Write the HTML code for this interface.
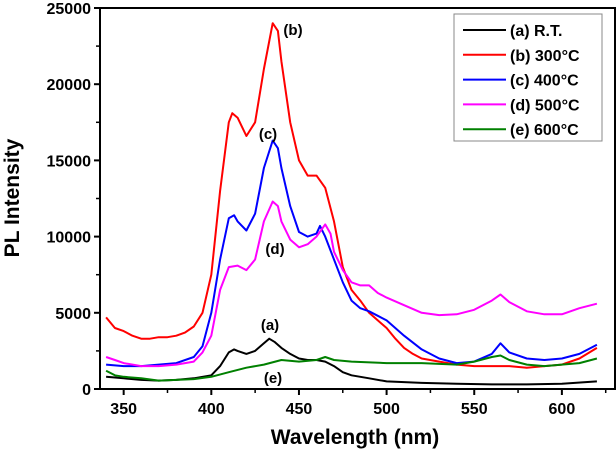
<!DOCTYPE html>
<html><head><meta charset="utf-8"><style>
html,body{margin:0;padding:0;background:#fff;}
svg{display:block;font-family:"Liberation Sans",Arial,sans-serif;font-weight:bold;}
</style></head><body>
<svg id="chart" width="616" height="453" viewBox="0 0 616 453"></svg>
<script>
const xTicks=[350,400,450,500,550,600];
const yTicks=[0,5000,10000,15000,20000,25000];
const seriesNames=["(a) R.T.","(b) 300\u00B0C","(c) 400\u00B0C","(d) 500\u00B0C","(e) 600\u00B0C"];
const seriesColors=["#000000","#ff0000","#0000ff","#ff00ff","#008000"];
const wlA=[340,350,360,370,380,390,400,405,410,413,415,420,425,430,433,436,440,445,450,455,460,465,470,475,480,490,500,520,540,560,580,600,620];
const valA=[800,700,600,550,600,700,900,1500,2400,2600,2500,2300,2500,3000,3300,3100,2700,2300,2000,1900,1900,1800,1500,1100,900,700,500,400,350,300,300,350,500];
const wlB=[340,345,350,355,360,365,370,375,380,385,390,395,400,405,410,412,415,420,425,430,435,438,440,445,450,455,460,465,470,475,480,485,490,495,500,505,510,515,520,530,540,550,560,570,580,590,600,610,620];
const valB=[4700,4000,3800,3500,3300,3300,3400,3400,3500,3700,4100,5000,7500,13000,17500,18100,17800,16600,17500,21000,24000,23500,21500,17500,15000,14000,14000,13200,11000,8000,6500,5800,5000,4500,4000,3300,2700,2300,2000,1800,1600,1500,1500,1500,1400,1500,1600,2000,2700];
const wlC=[340,350,360,370,380,390,395,400,405,410,413,415,420,425,430,435,438,440,445,450,455,460,462,465,470,475,480,485,490,495,500,510,520,530,540,550,560,565,570,580,590,600,610,620];
const valC=[1600,1500,1500,1600,1700,2100,2800,5000,8500,11200,11400,11000,10400,11500,14500,16300,15800,14500,12000,10300,10000,10200,10700,10000,8500,7000,5800,5300,5100,4800,4500,3500,2600,2000,1700,1800,2300,3000,2400,2000,1900,2000,2300,2900];
const wlD=[340,345,350,360,370,380,390,395,400,405,410,415,420,425,430,435,438,440,445,450,455,460,465,468,470,475,480,485,490,495,500,510,520,530,540,550,560,565,570,580,590,600,610,620];
const valD=[2100,1900,1700,1500,1500,1600,1800,2400,3500,6500,8000,8100,7800,8500,11000,12300,12000,11000,9800,9300,9500,10000,10800,10200,9000,7800,7000,6800,6800,6300,6000,5500,5000,4850,4900,5200,5800,6200,5700,5100,4900,4900,5300,5600];
const wlE=[340,345,350,360,370,380,390,400,410,420,430,440,450,460,465,470,480,500,520,540,550,560,565,570,580,590,600,610,620];
const valE=[1200,900,800,700,550,600,650,800,1100,1400,1600,1900,1800,1900,2100,1900,1800,1700,1700,1600,1800,2100,2200,1900,1600,1500,1600,1700,2000];
const allWl=[wlA,wlB,wlC,wlD,wlE];
const allVal=[valA,valB,valC,valD,valE];

const L=100,R=615,T=8,B=389;
const xMin=336.5,xMax=630.3,yMin=0,yMax=25000;
const sx=v=>L+(v-xMin)/(xMax-xMin)*(R-L);
const sy=v=>B-(v-yMin)/(yMax-yMin)*(B-T);
const svg=document.getElementById('chart');
const NS='http://www.w3.org/2000/svg';
function mk(tag,attrs,parent){const e=document.createElementNS(NS,tag);for(const k in attrs)e.setAttribute(k,attrs[k]);(parent||svg).appendChild(e);return e;}

// series
for(let s=0;s<5;s++){
  const d=allWl[s].map((w,i)=>(i?'L':'M')+sx(w).toFixed(1)+','+sy(allVal[s][i]).toFixed(1)).join(' ');
  const p=mk('path',{d:d,fill:'none',stroke:seriesColors[s],'stroke-width':2,'stroke-linejoin':'round'});
  
  
}
// frame
const fr=mk('rect',{x:L,y:T,width:R-L,height:B-T,fill:'none',stroke:'#000','stroke-width':2});


// x ticks
xTicks.forEach(t=>{
  const x=sx(t);
  mk('line',{x1:x,y1:B,x2:x,y2:B+6,stroke:'#000','stroke-width':2});
  mk('line',{x1:sx(t+25),y1:B,x2:sx(t+25),y2:B+4,stroke:'#000','stroke-width':1.5});
  const tx=mk('text',{x:x,y:B+25,'text-anchor':'middle','font-size':16});
  tx.textContent=t;
  
  
});
mk('line',{x1:sx(325)>L?sx(325):L,y1:B,x2:L,y2:B,stroke:'#000'});
// y ticks
yTicks.forEach(t=>{
  const y=sy(t);
  mk('line',{x1:L-6,y1:y,x2:L,y2:y,stroke:'#000','stroke-width':2});
  if(t<25000) mk('line',{x1:L-4,y1:sy(t+2500),x2:L,y2:sy(t+2500),stroke:'#000','stroke-width':1.5});
  const ty=mk('text',{x:L-9,y:y+6,'text-anchor':'end','font-size':16});
  ty.textContent=t;
  
  
});
// axis titles
const xt=mk('text',{x:355,y:444,'text-anchor':'middle','font-size':21});
xt.textContent='Wavelength (nm)';


const yt=mk('text',{x:0,y:0,'text-anchor':'middle','font-size':21,transform:'translate(19,198) rotate(-90)'});
yt.textContent='PL Intensity';


// annotations
const ann=[['(b)',293,35],['(c)',268,139],['(d)',275,254],['(a)',270,330],['(e)',273,383]];
ann.forEach(a=>{
  const t=mk('text',{x:a[1],y:a[2],'text-anchor':'middle','font-size':15});
  t.textContent=a[0];
  
  
});
// legend
const lg=mk('g',{});


mk('rect',{x:454,y:14,width:148,height:127,fill:'#fff',stroke:'#888','stroke-width':1},lg);
seriesNames.forEach((n,i)=>{
  const y=30+i*24.8;
  const g=mk('g',{},lg);
  
  
  mk('line',{x1:463,y1:y,x2:506,y2:y,stroke:seriesColors[i],'stroke-width':2},g);
  const t=mk('text',{x:510,y:y+6,'font-size':16},g);
  t.textContent=n;
});
</script>
</body></html>
